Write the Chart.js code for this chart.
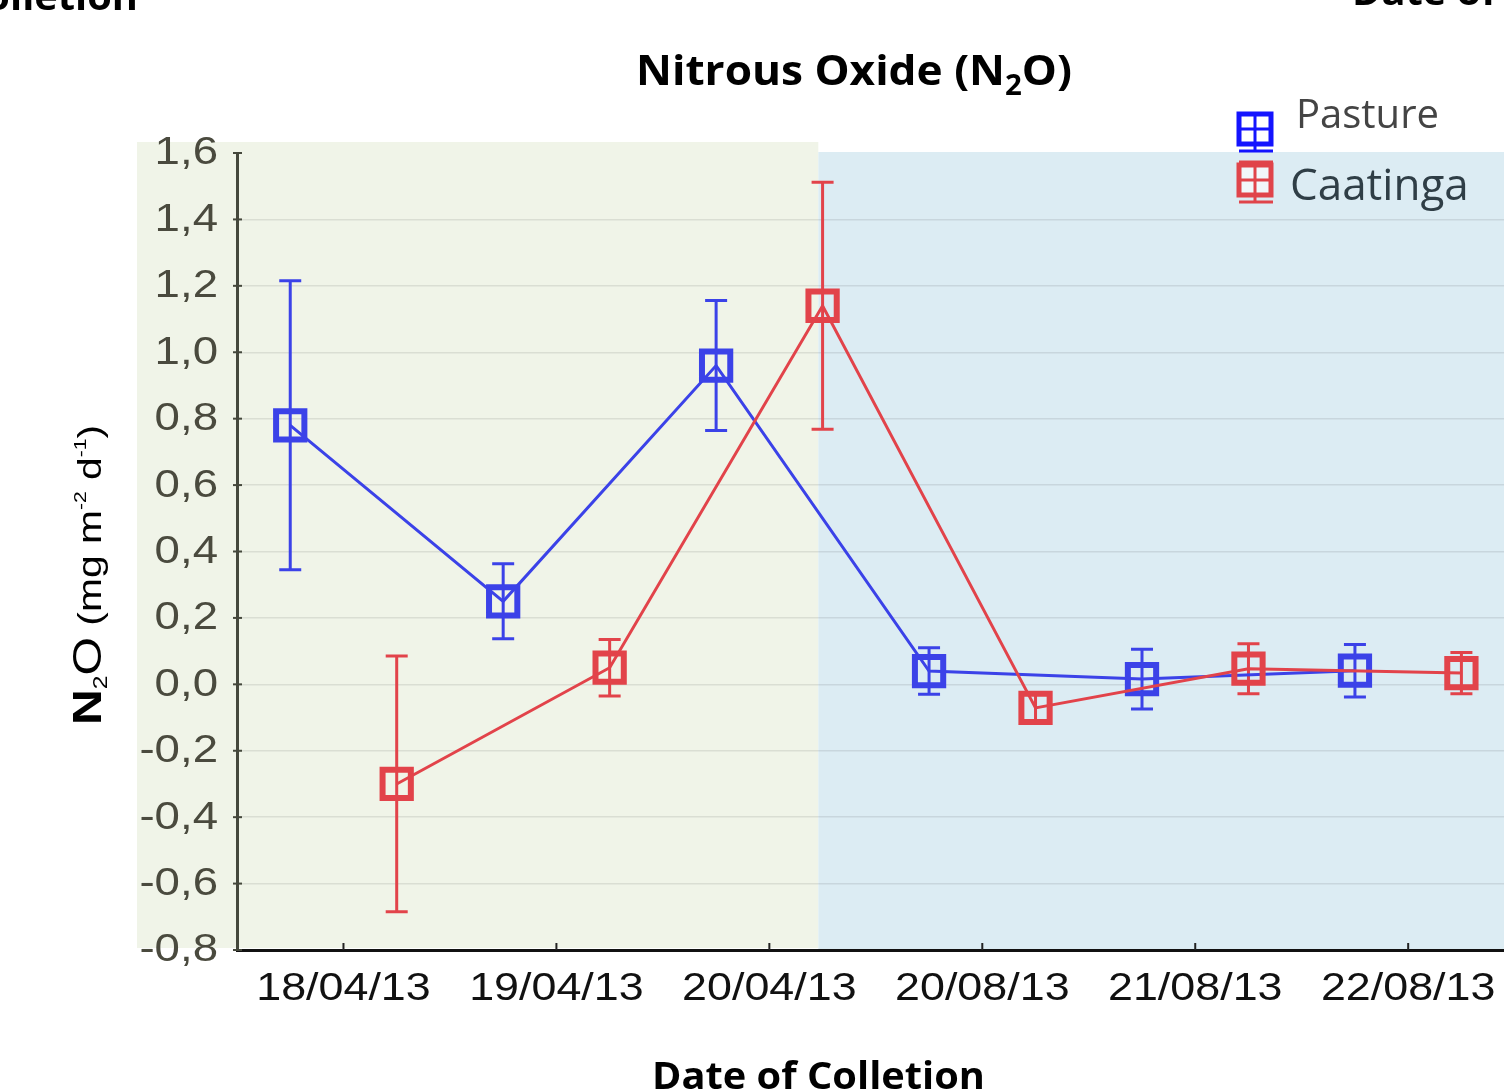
<!DOCTYPE html>
<html>
<head>
<meta charset="utf-8">
<script src="https://cdn.jsdelivr.net/npm/chart.js@4.4.1/dist/chart.umd.min.js"></script>
<style>
  html, body { margin: 0; padding: 0; background: #fff; }
  canvas { display: block; }
</style>
</head>
<body>
<canvas id="n2oChart" width="1504" height="1090"></canvas>
<script>
// --- datos ---
const fechas = ['18/04/13', '19/04/13', '20/04/13', '20/08/13', '21/08/13', '22/08/13'];
const pastureMedia = [0.78, 0.25, 0.96, 0.04, 0.016, 0.041];
const pastureError = [0.435, 0.113, 0.196, 0.07, 0.09, 0.079];
const caatingaMedia = [-0.30, 0.05, 1.14, -0.071, 0.047, 0.034];
const caatingaError = [0.385, 0.085, 0.372, 0.045, 0.075, 0.062];
const yTicks = [-0.8, -0.6, -0.4, -0.2, 0, 0.2, 0.4, 0.6, 0.8, 1.0, 1.2, 1.4, 1.6];

const desplazamiento = 0.25;   // separacion de cada serie respecto a la fecha
const corteFondo = 2.23;       // donde cambia el fondo verde a azul

const azul = '#3b42e8';
const rojo = '#e2434a';

function puntos(medias, shift) {
  return medias.map((v, i) => ({ x: i + shift, y: v }));
}

function fmt(v) {
  return v.toFixed(1).replace('.', ',');
}

// texto estirado en horizontal (la figura original esta deformada)
function textoEstirado(ctx, text, x, y, sx, align) {
  ctx.save();
  ctx.translate(x, y);
  ctx.scale(sx, 1);
  ctx.textAlign = align;
  ctx.fillText(text, 0, 0);
  ctx.restore();
}

// piezas con fuentes distintas (subindices), ajustadas a un ancho dado
function piezas(ctx, partes, x, y, ancho) {
  let w = 0;
  partes.forEach(p => { ctx.font = p.font; w += ctx.measureText(p.text).width; });
  const sx = ancho / w;
  ctx.save();
  ctx.translate(x, y);
  ctx.scale(sx, 1);
  ctx.textAlign = 'left';
  ctx.textBaseline = 'alphabetic';
  let cx = 0;
  partes.forEach(p => {
    ctx.font = p.font;
    ctx.fillText(p.text, cx, p.dy || 0);
    cx += ctx.measureText(p.text).width;
  });
  ctx.restore();
}

const fondoPlugin = {
  id: 'fondo',
  beforeDraw(chart) {
    const { ctx, chartArea, scales: { x } } = chart;
    const xc = x.getPixelForValue(corteFondo);
    ctx.save();
    ctx.fillStyle = '#f0f4e8';
    ctx.fillRect(chartArea.left - 100, chartArea.top - 11, xc - chartArea.left + 100, chartArea.bottom - chartArea.top + 9);
    ctx.fillStyle = '#dcecf3';
    ctx.fillRect(xc, chartArea.top - 1, chartArea.right - xc, chartArea.bottom - chartArea.top + 1);
    ctx.restore();
  }
};

const erroresPlugin = {
  id: 'errores',
  beforeDatasetsDraw(chart) {
    const { ctx, scales: { y } } = chart;
    chart.data.datasets.forEach((ds, di) => {
      const meta = chart.getDatasetMeta(di);
      ctx.save();
      ctx.strokeStyle = ds.borderColor;
      ctx.lineWidth = 3;
      meta.data.forEach((pt, i) => {
        const v = ds.data[i].y;
        const e = ds.errores[i];
        const top = y.getPixelForValue(v + e);
        const bot = y.getPixelForValue(v - e);
        ctx.beginPath();
        ctx.moveTo(pt.x, top); ctx.lineTo(pt.x, bot);
        ctx.moveTo(pt.x - 11, top); ctx.lineTo(pt.x + 11, top);
        ctx.moveTo(pt.x - 11, bot); ctx.lineTo(pt.x + 11, bot);
        ctx.stroke();
      });
      ctx.restore();
    });
  }
};

const textosPlugin = {
  id: 'textos',
  afterDraw(chart) {
    const { ctx, chartArea, scales: { x, y } } = chart;
    ctx.save();

    // marcas de los ejes
    ctx.strokeStyle = '#45483c';
    ctx.lineWidth = 2;
    yTicks.forEach(t => {
      const py = y.getPixelForValue(t);
      ctx.beginPath();
      ctx.moveTo(chartArea.left - 4, py);
      ctx.lineTo(chartArea.left + 5, py);
      ctx.stroke();
    });
    ctx.strokeStyle = '#222';
    fechas.forEach((f, i) => {
      const px = x.getPixelForValue(i);
      ctx.beginPath();
      ctx.moveTo(px, chartArea.bottom);
      ctx.lineTo(px, chartArea.bottom - 7);
      ctx.stroke();
    });

    // etiquetas del eje y
    ctx.font = '38px "Liberation Sans", Arial, sans-serif';
    ctx.fillStyle = '#4a4a3e';
    ctx.textBaseline = 'middle';
    yTicks.forEach(t => {
      textoEstirado(ctx, fmt(t), chartArea.left - 19, y.getPixelForValue(t) + 1, 1.2, 'right');
    });

    // etiquetas del eje x
    ctx.fillStyle = '#111';
    fechas.forEach((f, i) => {
      textoEstirado(ctx, f, x.getPixelForValue(i), chartArea.bottom + 40, 1.18, 'center');
    });

    // titulo
    ctx.fillStyle = '#000';
    piezas(ctx, [
      { text: 'Nitrous Oxide (N', font: 'bold 42px "Open Sans", sans-serif' },
      { text: '2', font: 'bold 28px "Open Sans", sans-serif', dy: 10 },
      { text: 'O)', font: 'bold 42px "Open Sans", sans-serif' }
    ], 636, 85, 436);

    // titulo eje x (y restos recortados de la figura vecina)
    const tituloX = [{ text: 'Date of Colletion', font: 'bold 37px "Open Sans", sans-serif' }];
    piezas(ctx, tituloX, 652, 1089, 333);
    piezas(ctx, tituloX, 138 - 333, 10, 333);
    piezas(ctx, tituloX, 1352, 5, 333);

    // titulo eje y
    ctx.save();
    ctx.translate(101, 725);
    ctx.rotate(-Math.PI / 2);
    piezas(ctx, [
      { text: 'N', font: 'bold 40px "Liberation Sans", Arial, sans-serif' },
      { text: '2', font: '20px "Liberation Sans", Arial, sans-serif', dy: 6 },
      { text: 'O', font: '40px "Liberation Sans", Arial, sans-serif' },
      { text: ' (mg m', font: '33px "Liberation Sans", Arial, sans-serif' },
      { text: '-2', font: '17px "Liberation Sans", Arial, sans-serif', dy: -15 },
      { text: ' d', font: '33px "Liberation Sans", Arial, sans-serif' },
      { text: '-1', font: '17px "Liberation Sans", Arial, sans-serif', dy: -15 },
      { text: ')', font: '33px "Liberation Sans", Arial, sans-serif' }
    ], 0, 0, 300);
    ctx.restore();

    ctx.restore();
  }
};

const leyendaPlugin = {
  id: 'leyenda',
  afterDraw(chart) {
    const { ctx } = chart;
    const items = [
      { label: chart.data.datasets[1].label, color: '#1414ff', txt: '#444', font: '40px "Open Sans", sans-serif', ix: 1239, iy: 114, tx: 1296, ty: 128, arriba: false },
      { label: chart.data.datasets[0].label, color: '#e0444a', txt: '#2f3e46', font: '44px "Open Sans", sans-serif', ix: 1239, iy: 165, tx: 1290, ty: 200, arriba: true }
    ];
    items.forEach(it => {
      ctx.save();
      ctx.strokeStyle = it.color;
      ctx.lineWidth = 5;
      ctx.fillStyle = 'rgba(255,255,255,0.6)';
      ctx.fillRect(it.ix, it.iy, 32, 30);
      ctx.strokeRect(it.ix, it.iy, 32, 30);
      ctx.lineWidth = 3;
      ctx.beginPath();
      ctx.moveTo(it.ix + 16, it.iy); ctx.lineTo(it.ix + 16, it.iy + 30);
      ctx.moveTo(it.ix, it.iy + 15); ctx.lineTo(it.ix + 32, it.iy + 15);
      ctx.moveTo(it.ix, it.iy + 37); ctx.lineTo(it.ix + 34, it.iy + 37);
      ctx.moveTo(it.ix + 16, it.iy + 30); ctx.lineTo(it.ix + 16, it.iy + 37);
      if (it.arriba) {
        ctx.moveTo(it.ix, it.iy - 3); ctx.lineTo(it.ix + 34, it.iy - 3);
      }
      ctx.stroke();
      ctx.fillStyle = it.txt;
      ctx.font = it.font;
      ctx.textAlign = 'left';
      ctx.textBaseline = 'alphabetic';
      ctx.fillText(it.label, it.tx, it.ty);
      ctx.restore();
    });
  }
};

const ctx = document.getElementById('n2oChart').getContext('2d');

new Chart(ctx, {
  type: 'line',
  data: {
    datasets: [
      {
        label: 'Caatinga',
        data: puntos(caatingaMedia, desplazamiento),
        errores: caatingaError,
        borderColor: rojo,
        pointBorderColor: rojo,
        order: 1
      },
      {
        label: 'Pasture',
        data: puntos(pastureMedia, -desplazamiento),
        errores: pastureError,
        borderColor: azul,
        pointBorderColor: azul,
        order: 2
      }
    ]
  },
  options: {
    responsive: false,
    devicePixelRatio: 1,
    animation: false,
    layout: { autoPadding: false, padding: { top: 153, left: 0, right: 0, bottom: 0 } },
    elements: {
      line: { borderWidth: 3, tension: 0 },
      point: { pointStyle: 'rect', radius: 20, borderWidth: 6, backgroundColor: 'transparent' }
    },
    plugins: {
      legend: { display: false },
      tooltip: { enabled: false }
    },
    scales: {
      x: {
        type: 'linear',
        min: -0.5,
        max: 5.45,
        afterBuildTicks: s => { s.ticks = fechas.map((_, i) => ({ value: i })); },
        afterFit: s => { s.height = 140; },
        ticks: { display: false },
        grid: { display: false },
        border: { color: '#111', width: 3 }
      },
      y: {
        min: -0.8,
        max: 1.6,
        afterBuildTicks: s => { s.ticks = yTicks.map(v => ({ value: v })); },
        afterFit: s => { s.width = 237; },
        ticks: { display: false },
        grid: {
          drawTicks: false,
          lineWidth: 1.5,
          color: c => (c.tick && (c.tick.value === 1.6 || c.tick.value === -0.8)) ? 'transparent' : 'rgba(0,0,0,0.09)'
        },
        border: { color: '#45483c', width: 3 }
      }
    }
  },
  plugins: [fondoPlugin, erroresPlugin, textosPlugin, leyendaPlugin]
});
</script>
</body>
</html>
